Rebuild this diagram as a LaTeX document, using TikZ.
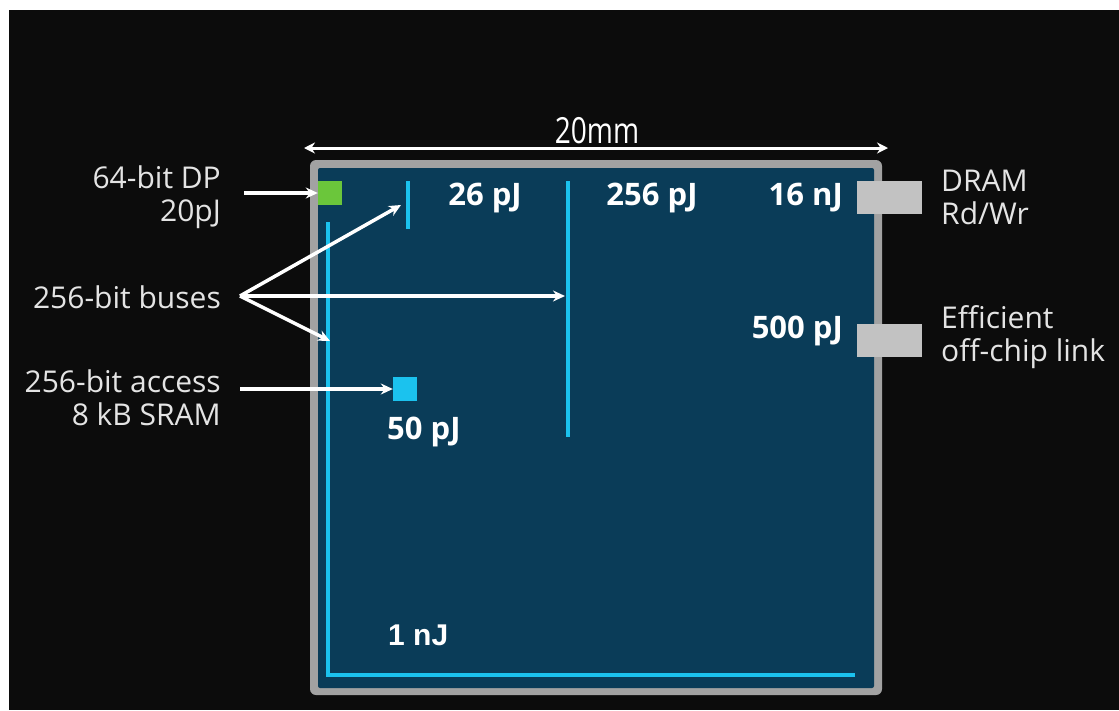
\documentclass[tikz,border=0pt]{standalone}
\usepackage{fontspec}
\setmainfont{Open Sans}
\newfontfamily\arialfont{Liberation Sans}
\usetikzlibrary{arrows.meta,positioning}
\definecolor{Backdrop}{HTML}{0C0C0C}
\definecolor{Die}{HTML}{0A3C58}
\definecolor{DieEdge}{HTML}{A2A2A2}
\definecolor{Pad}{HTML}{C2C2C2}
\definecolor{Wire}{HTML}{1BC2EE}
\definecolor{Alu}{HTML}{6BC63B}
\definecolor{Label}{HTML}{E4E4E4}
\tikzset{
  sidelabel/.style={font=\fontsize{30}{33}\selectfont,text=Label,inner sep=0pt},
  costlabel/.style={font=\fontsize{31}{33}\selectfont\bfseries,text=white,inner sep=0pt},
  wire/.style={draw=Wire,line width=4.5pt},
  pointer/.style={-{Stealth[length=12pt,width=11pt]},draw=white,line width=3.5pt},
  padbox/.style={fill=Pad,minimum width=65pt,minimum height=33pt,inner sep=0pt},
  unitbox/.style={minimum size=24pt,inner sep=0pt}
}

\begin{document}
\begin{tikzpicture}[x=1pt,y=-1pt]
  \useasboundingbox (0,0) rectangle (1119,710);
  \fill[white] (0,0) rectangle (1119,710);
  \fill[Backdrop] (9,10) rectangle (1119,710);

  % die outline
  \fill[DieEdge,rounded corners=6pt] (310,160) rectangle (882,695);
  \fill[Die,rounded corners=2pt] (318,168) rectangle (874,688);

  % wires
  \draw[wire] (328,222) |- (855,675);
  \draw[wire] (408,181) -- (408,229);
  \draw[wire] (568,181) -- (568,437);
  \coordinate (busA) at (401,205);
  \coordinate (busB) at (565,296);
  \coordinate (busC) at (330,341);

  % units and pads
  \node[unitbox,fill=Alu] (dp) at (330,193) {};
  \node[unitbox,fill=Wire] (sram) at (405,389) {};
  \node[padbox] (dram) at (889,197.5) {};
  \node[padbox] (link) at (889.5,340.5) {};

  % energy figures
  \node[costlabel] (e26) at (485,198) {26 pJ};
  \node[costlabel] (e256) at (652,198) {256 pJ};
  \node[costlabel,anchor=east] (e16) at (843,198) {16 nJ};
  \node[costlabel,anchor=east] (e500) at (843,331) {500 pJ};
  \node[costlabel,anchor=west] (e50) at (387,432) {50 pJ};
  \node[font=\arialfont\fontsize{30}{33}\selectfont\bfseries,text=white,inner sep=0pt,anchor=west] (e1) at (388,635) {1 nJ};

  % side labels
  \node[sidelabel,anchor=east,align=right] (dplabel) at (221,197) {64-bit DP\\20pJ};
  \node[sidelabel,anchor=east] (buslabel) at (221,297) {256-bit buses};
  \node[sidelabel,anchor=east,align=right] (sramlabel) at (221,398) {256-bit access\\8 kB SRAM};
  \node[sidelabel,anchor=west,align=left] (dramlabel) at (941,197) {DRAM\\Rd/Wr};
  \node[sidelabel,anchor=west,align=left] (linklabel) at (941,337) {Efficient\\off-chip link};

  % width
  \node[sidelabel,text=white,font=\fontsize{36}{38}\selectfont] (width) at (597,131) {\scalebox{0.78}[1]{20mm}};
  \coordinate (wl) at (304,148);
  \coordinate (wr) at (888,148);
  \draw[{Stealth[length=11pt,width=11pt]}-{Stealth[length=11pt,width=11pt]},draw=white,line width=3pt] (wl) -- (wr);

  % pointers
  \coordinate (fork) at (240,296);
  \draw[pointer] ([xshift=23pt]dplabel.east |- dp.west) -- (dp.west);
  \draw[pointer] (fork) -- (busA);
  \draw[pointer] (fork) -- (busB);
  \draw[pointer] (fork) -- (busC);
  \draw[pointer] ([xshift=19pt]sramlabel.east |- sram.west) -- (sram.west);
\end{tikzpicture}
\end{document}
